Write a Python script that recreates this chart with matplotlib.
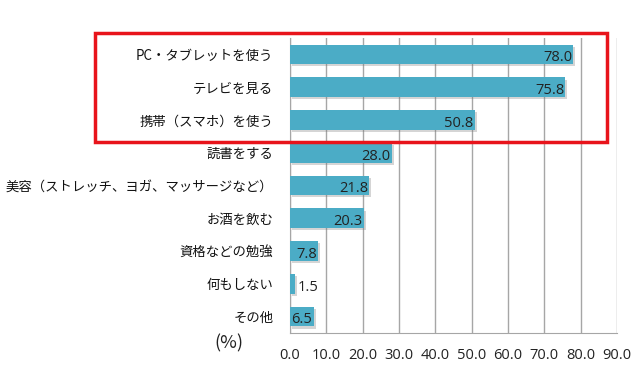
import matplotlib
matplotlib.use("Agg")
from matplotlib import pyplot as plt
from matplotlib import patheffects as pe
from matplotlib.patches import Rectangle

plt.rcParams["font.family"] = ["Noto Sans CJK JP", "DejaVu Sans"]
num_font = ["Open Sans", "DejaVu Sans"]

categories = [
    "PC・タブレットを使う",
    "テレビを見る",
    "携帯（スマホ）を使う",
    "読書をする",
    "美容（ストレッチ、ヨガ、マッサージなど）",
    "お酒を飲む",
    "資格などの勉強",
    "何もしない",
    "その他",
]
values = [78.0, 75.8, 50.8, 28.0, 21.8, 20.3, 7.8, 1.5, 6.5]
xticks = [0, 10, 20, 30, 40, 50, 60, 70, 80, 90]

fig = plt.figure(figsize=(6.4, 3.81), dpi=100)
ax = fig.add_axes([0.453, 0.126, 0.511, 0.774])

ypos = list(range(len(categories)))
bars = ax.barh(ypos, values, height=0.6, color="#4BACC6", zorder=3)
for b in bars:
    b.set_path_effects([pe.SimplePatchShadow(offset=(1.5, -1.5), shadow_rgbFace="#777777", alpha=0.3), pe.Normal()])

for y, v in zip(ypos, values):
    if v < 4:
        ax.text(v + 0.6, y + 0.1, f"{v:.1f}", ha="left", va="center", fontsize=10.5,
                family=num_font, color="#222222", zorder=4)
    else:
        ax.text(v - 0.3, y + 0.1, f"{v:.1f}", ha="right", va="center", fontsize=10.5,
                family=num_font, color="#222222", zorder=4)

ax.set_xlim(0, 90)
ax.set_ylim(8.5, -0.5)
ax.set_xticks(xticks)
ax.set_xticklabels([f"{t:.1f}" for t in xticks], fontsize=10.5, family=num_font, color="#222222")
ax.set_yticks(ypos)
ax.set_yticklabels(categories, fontsize=9.6, color="#111111")
ax.tick_params(axis="x", length=0, pad=11)
ax.tick_params(axis="y", length=0, pad=12)
ax.grid(axis="x", color="#A6A6A6", linewidth=1, zorder=0)
ax.spines["top"].set_visible(False)
ax.spines["right"].set_visible(False)
ax.spines["left"].set_color("#A6A6A6")
ax.spines["bottom"].set_color("#A6A6A6")

fig.text(0.358, 0.10, "(%)", fontsize=13, ha="center", va="center", color="#222222")

fig.patches.append(Rectangle((0.148, 0.627), 0.80, 0.286, transform=fig.transFigure,
                             fill=False, edgecolor="#E8141B", linewidth=2.5))

plt.savefig("out.png", dpi=100)
